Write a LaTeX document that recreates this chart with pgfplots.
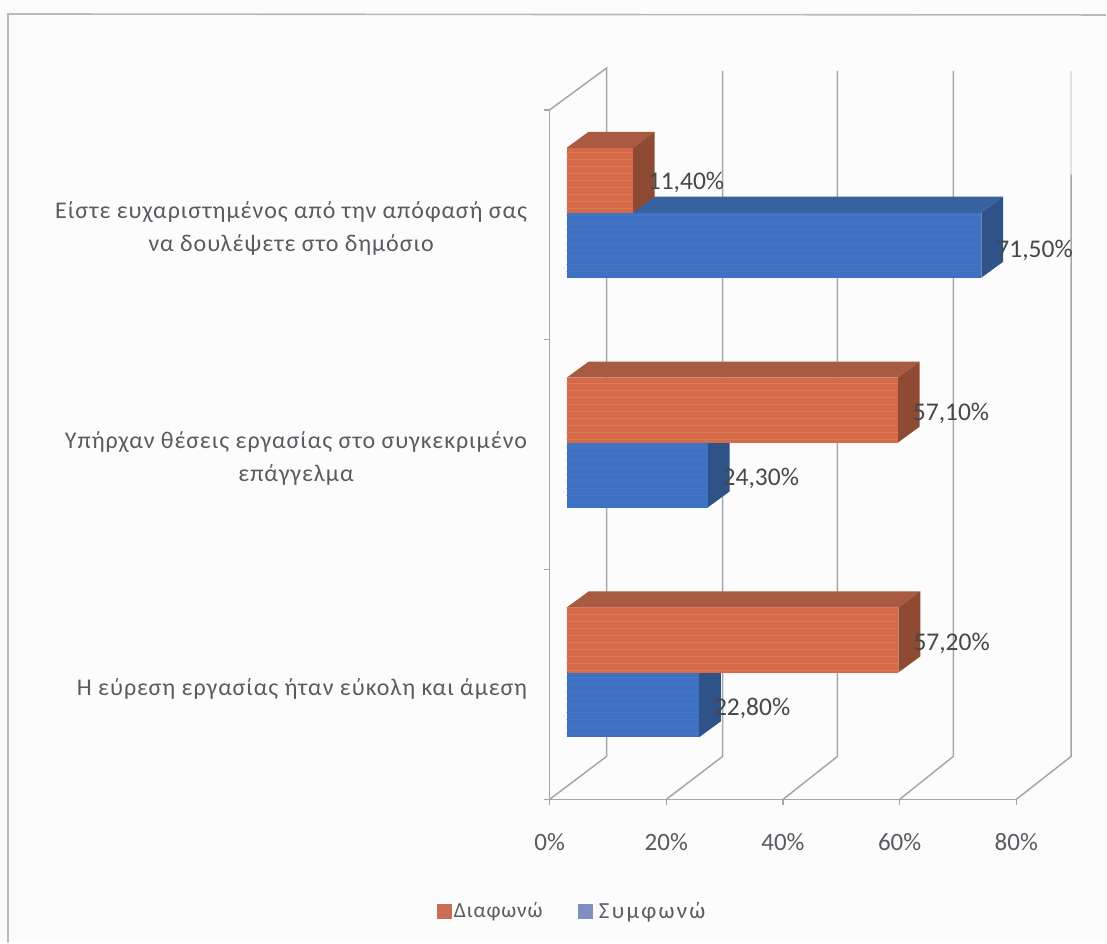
\documentclass[border=0pt]{standalone}
\usepackage{pgfplots}
\pgfplotsset{compat=1.18}
\usepackage{fontspec}
\usetikzlibrary{patterns.meta}
\setmainfont{Carlito}
\newfontfamily\spaced[LetterSpace=4]{Carlito}
\newfontfamily\wider[LetterSpace=10]{Carlito}
\definecolor{wallgray}{HTML}{A3A8AB}
\definecolor{framegray}{HTML}{B4BABF}
\definecolor{inktext}{HTML}{585C60}
\definecolor{inkvalue}{HTML}{45484B}
\definecolor{redfront}{HTML}{D56A48}
\definecolor{redstripe}{HTML}{DC7A55}
\definecolor{redtop}{HTML}{A85B40}
\definecolor{redside}{HTML}{8F4A33}
\definecolor{bluefront}{HTML}{3F71C2}
\definecolor{bluestripe}{HTML}{4476C6}
\definecolor{bluetop}{HTML}{38619F}
\definecolor{blueside}{HTML}{2F5288}
\definecolor{legred}{HTML}{CB6E58}
\definecolor{legblue}{HTML}{7F8FBF}
\pgfplotsset{
  valuebar/.style n args={3}{
    xbar, bar width=65pt, draw=none, fill=#1,
    postaction={pattern={Lines[angle=0,distance=7pt,line width=1pt]},pattern color=#2},
    point meta=x,
    nodes near coords={\pgfmathprintnumber[fixed,fixed zerofill,precision=2,use comma]{\pgfplotspointmeta}\%},
    nodes near coords style={anchor=west,inner sep=0pt,xshift=15pt,yshift=#3,
      font=\fontsize{25.5}{30}\selectfont,text=inkvalue},
  }
}
% top and side faces of a bar: value, value+depth, front bottom, front top, back bottom, back top
\newcommand{\barfaces}[8]{%
  \addplot[fill=#1,draw=none,forget plot] coordinates {(0,#6) (3.79,#8) (#4,#8) (#3,#6)} -- cycle;
  \addplot[fill=#2,draw=none,forget plot] coordinates {(#3,#6) (#4,#8) (#4,#7) (#3,#5)} -- cycle;
}
\begin{document}
\begin{tikzpicture}
\path[fill=white!99!black] (0,0) rectangle (1107pt,943pt);
\draw[framegray,line width=1.6pt] (8pt,0pt) -- (8pt,929pt) -- (1107pt,928pt);
% walls, floor and axis
\begin{axis}[
  at={(550pt,143pt)}, anchor=south west, scale only axis,
  width=467pt, height=690pt,
  xmin=0, xmax=80, ymin=0, ymax=3, clip=false,
  axis x line*=bottom, axis y line*=left,
  axis line style={wallgray,line width=1.5pt,-},
  tick style={wallgray,line width=1.5pt},
  tick align=outside, major tick length=5.5pt,
  xtick={0,20,40,60,80},
  xticklabel={\pgfmathprintnumber{\tick}\%},
  /pgf/number format/assume math mode=true,
  x tick label style={font=\fontsize{25}{30}\selectfont,text=inktext,yshift=-25pt},
  ytick={0,1,2,3}, yticklabels={},
  extra y ticks={0.5,1.5,2.5},
  extra y tick style={major tick length=0pt},
  extra y tick labels={{Η εύρεση εργασίας ήταν εύκολη και άμεση},{Υπήρχαν θέσεις εργασίας στο συγκεκριμένο\\επάγγελμα},{Είστε ευχαριστημένος από την απόφασή σας\\να δουλέψετε στο δημόσιο}},
  y tick label style={font=\fontsize{24}{33}\selectfont\spaced,text=inktext,align=center,xshift=-19pt,yshift=-4pt},
  legend columns=2,
  legend style={at={(0.049,-0.162)},anchor=center,draw=none,fill=none,
    text=inktext,
    /tikz/every even column/.append style={column sep=33pt}},
  legend image code/.code={\fill[#1] (0pt,-7pt) rectangle (14pt,7pt);},
]
\addlegendimage{legred,fill=legred}
\addlegendentry{\fontsize{21.5}{28}\selectfont\spaced Διαφωνώ}
\addlegendimage{legblue,fill=legblue}
\addlegendentry{\hspace*{5pt}\fontsize{23}{28}\selectfont\wider Συμφωνώ}
% back wall verticals
\addplot[wallgray,line width=1.5pt,forget plot] coordinates {(0,0) (9.76,0.187) (9.76,3.182) (0,3)};
\addplot[wallgray,line width=1.5pt,forget plot] coordinates {(20,0) (29.65,0.187) (29.65,3.17)};
\addplot[wallgray,line width=1.5pt,forget plot] coordinates {(40,0) (49.35,0.187) (49.35,3.17)};
\addplot[wallgray,line width=1.5pt,forget plot] coordinates {(60,0) (69.2,0.187) (69.2,3.17)};
\addplot[wallgray,line width=1.5pt,forget plot] coordinates {(80,0) (89.4,0.187) (89.4,2.72)};
\addplot[wallgray!35,line width=1.5pt,forget plot] coordinates {(89.4,2.72) (89.4,3.17)};
\end{axis}
% bars, set back from the axis plane
\begin{axis}[
  at={(567pt,155pt)}, anchor=south west, scale only axis,
  width=464.3pt, height=690pt,
  xmin=0, xmax=80, ymin=0, ymax=3, hide axis, clip=false,
  /pgf/number format/assume math mode=true,
]
% lowest group
\barfaces{bluetop}{blueside}{22.8}{26.59}{0.2174}{0.5}{0.2874}{0.57}
\addplot[valuebar={bluefront}{bluestripe}{-36pt},bar shift=-32.5pt] coordinates {(22.8,0.5)};
\barfaces{redtop}{redside}{57.2}{60.99}{0.5}{0.7826}{0.57}{0.8526}
\addplot[valuebar={redfront}{redstripe}{29pt},bar shift=32.5pt] coordinates {(57.2,0.5)};
% middle group
\barfaces{bluetop}{blueside}{24.3}{28.09}{1.2174}{1.5}{1.2874}{1.57}
\addplot[valuebar={bluefront}{bluestripe}{-36pt},bar shift=-32.5pt] coordinates {(24.3,1.5)};
\barfaces{redtop}{redside}{57.1}{60.89}{1.5}{1.7826}{1.57}{1.8526}
\addplot[valuebar={redfront}{redstripe}{29pt},bar shift=32.5pt] coordinates {(57.1,1.5)};
% top group
\barfaces{bluetop}{blueside}{71.5}{75.29}{2.2174}{2.5}{2.2874}{2.57}
\addplot[valuebar={bluefront}{bluestripe}{-38pt},bar shift=-32.5pt] coordinates {(71.5,2.5)};
\barfaces{redtop}{redside}{11.4}{15.19}{2.5}{2.7826}{2.57}{2.8526}
\addplot[valuebar={redfront}{redstripe}{30pt},bar shift=32.5pt] coordinates {(11.4,2.5)};
\end{axis}
\end{tikzpicture}
\end{document}
